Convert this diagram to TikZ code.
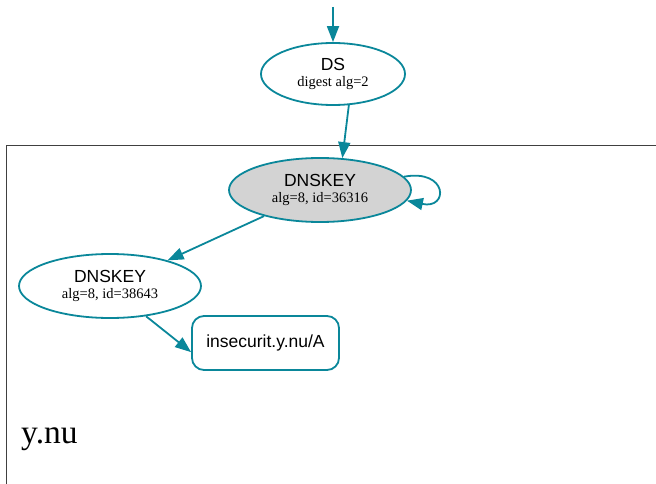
\documentclass[tikz,border=0pt]{standalone}
\usepackage{fontspec}
\setmainfont{Liberation Serif}
\setsansfont{Liberation Sans}
\usetikzlibrary{arrows.meta,shapes.geometric}
\definecolor{sec}{HTML}{0A879A}
\tikzset{
  edge/.style={draw=sec,line width=1.8pt,-{Triangle[length=16pt,width=12pt]}},
  keynode/.style={ellipse,draw=sec,line width=1.8pt,inner sep=0pt,align=center,
    font=\fontsize{17.5}{16}\selectfont},
  rrnode/.style={rectangle,rounded corners=12pt,draw=sec,line width=1.8pt,inner sep=0pt,align=center},
}
\newcommand{\ttl}[1]{{\sffamily\fontsize{17.5}{16}\selectfont #1}}
\newcommand{\sub}[1]{{\rmfamily\fontsize{14.5}{16}\selectfont #1}}
\begin{document}
\begin{tikzpicture}[x=1pt,y=-1pt]
\useasboundingbox (0,0) rectangle (656,484);
% cluster
\draw[black!75,line width=1pt] (6,490) -- (6,146) -- (662,146);
\node[anchor=base west,inner sep=0pt] (zone) at (21,443) {\rmfamily\fontsize{33.5}{34}\selectfont y.nu};
% nodes
\node[keynode,minimum width=144pt,minimum height=62pt] (ds) at (333,74)
  {\ttl{DS}\\\sub{digest alg=2}};
\node[keynode,fill={rgb,255:red,211;green,211;blue,211},minimum width=182pt,minimum height=64pt] (k1) at (320,190)
  {\ttl{DNSKEY}\\\sub{alg=8, id=36316}};
\node[keynode,minimum width=182pt,minimum height=64pt] (k2) at (110,286)
  {\ttl{DNSKEY}\\\sub{alg=8, id=38643}};
\node[rrnode,minimum width=147pt,minimum height=54pt] (a) at (265.5,343)
  {\ttl{insecurit.y.nu/A}};
\coordinate (top) at (333,7);
% edges
\draw[edge] (top) -- (ds.north);
\draw[edge] (ds.-63) -- (k1.55);
\draw[edge] (k1.-155.5) -- (k2.24.5);
\draw[edge] (k2.-40.7) -- (a.187);
\draw[edge] (k1.9) .. controls +(44,-8) and +(42,9) .. (k1.-7);
\end{tikzpicture}
\end{document}
